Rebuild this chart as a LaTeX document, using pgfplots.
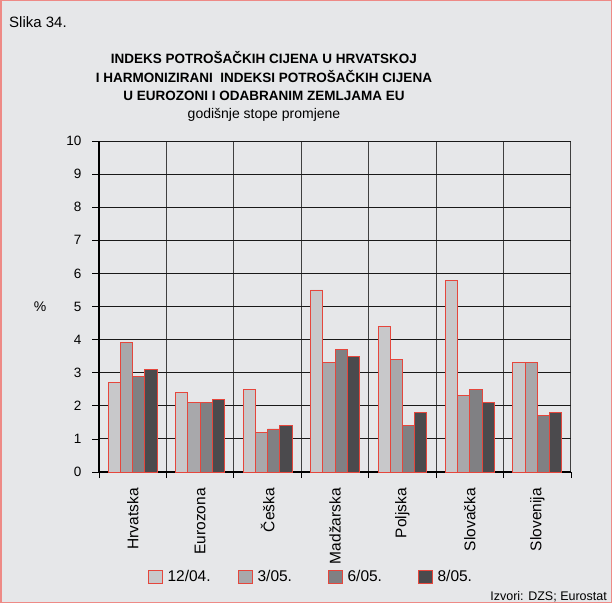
\documentclass[border=0pt]{standalone}
\usepackage{fontspec}
\setmainfont{Liberation Sans}
\usepackage{pgfplots}
\pgfplotsset{compat=1.18}
\definecolor{bg}{HTML}{E6E7E9}
\definecolor{frame}{HTML}{EE8A86}
\definecolor{edge}{HTML}{E5463C}
\definecolor{cA}{HTML}{C8C8CA}
\definecolor{cB}{HTML}{A8A8AB}
\definecolor{cC}{HTML}{808083}
\definecolor{cD}{HTML}{4B4A4D}
\newcommand{\lt}[1]{\makebox[46pt][l]{\hspace{3pt}#1}}
\begin{document}
\begin{tikzpicture}
\path[use as bounding box] (0pt,0pt) rectangle (612pt,603pt);
\fill[bg] (0pt,0pt) rectangle (612pt,603pt);
\draw[frame, line width=1.5pt] (0.75pt,0.75pt) rectangle (611.25pt,602.25pt);
\node[anchor=base west, inner sep=0pt, font=\fontsize{15}{18}\selectfont] at (9pt,575pt) {Slika 34.};
\node[anchor=base, inner sep=0pt, font=\fontsize{13.5}{16}\selectfont\bfseries] at (264pt,539pt) {INDEKS POTROŠAČKIH CIJENA U HRVATSKOJ};
\node[anchor=base, inner sep=0pt, font=\fontsize{13.5}{16}\selectfont\bfseries] at (264pt,520pt) {I HARMONIZIRANI\ \ INDEKSI POTROŠAČKIH CIJENA};
\node[anchor=base, inner sep=0pt, font=\fontsize{13.5}{16}\selectfont\bfseries] at (264pt,502pt) {U EUROZONI I ODABRANIM ZEMLJAMA EU};
\node[anchor=base, inner sep=0pt, font=\fontsize{14}{16}\selectfont] at (264pt,484pt) {godišnje stope promjene};
\node[anchor=base east, inner sep=0pt, font=\fontsize{12.5}{15}\selectfont] at (607pt,2.5pt) {Izvori: DZS; Eurostat};
\begin{axis}[
  at={(99pt,131pt)}, anchor=south west,
  scale only axis, width=472pt, height=331pt,
  xmin=-0.5, xmax=6.5, ymin=0, ymax=10,
  ytick={0,1,...,10},
  xtick={0,...,6},
  xticklabels={Hrvatska,Eurozona,Češka,Madžarska,Poljska,Slovačka,Slovenija},
  minor xtick={-0.5,0.5,...,6.5},
  xminorgrids=true, ymajorgrids=true, xmajorgrids=false,
  axis x line*=bottom, axis y line*=left,
  axis line style={-, black, line width=1.8pt},
  tick align=outside,
  major tick length=7pt, minor tick length=6pt,
  x tick style={draw=none},
  minor x tick style={draw=black, line width=0.8pt},
  y tick style={black, line width=0.8pt},
  every major grid/.style={black!90, line width=0.9pt},
  every minor grid/.style={black!75, line width=1pt},
  /pgf/number format/assume math mode=true,
  yticklabel style={font=\fontsize{13.5}{16}\selectfont, xshift=-7pt},
  xticklabel style={font=\fontsize{15.5}{18}\selectfont, rotate=90, anchor=east, inner sep=0pt},
  xticklabel shift=9pt,
  ylabel={\%},
  ylabel style={rotate=-90, at={(axis description cs:-0.125,0.5)}, anchor=center, font=\fontsize{14}{16}\selectfont},
  ybar=0pt, bar width=12.2pt,
  legend columns=4,
  legend style={at={(0.1025,-0.317)}, anchor=west, draw=none, fill=none, inner sep=0pt,
    font=\fontsize{15.5}{18}\selectfont,
    /tikz/every even column/.append style={column sep=25pt}},
  legend image code/.code={\draw[#1, line width=1pt] (0pt,-6.5pt) rectangle (14pt,6.5pt);},
]
\addplot[fill=cA, draw=edge, line width=0.9pt] coordinates {(0,2.7) (1,2.4) (2,2.5) (3,5.5) (4,4.4) (5,5.8) (6,3.3)};
\addplot[fill=cB, draw=edge, line width=0.9pt] coordinates {(0,3.9) (1,2.1) (2,1.2) (3,3.3) (4,3.4) (5,2.3) (6,3.3)};
\addplot[fill=cC, draw=edge, line width=0.9pt] coordinates {(0,2.9) (1,2.1) (2,1.3) (3,3.7) (4,1.4) (5,2.5) (6,1.7)};
\addplot[fill=cD, draw=edge, line width=0.9pt] coordinates {(0,3.1) (1,2.2) (2,1.4) (3,3.5) (4,1.8) (5,2.1) (6,1.8)};
\legend{\lt{12/04.},\lt{3/05.},\lt{6/05.},\lt{8/05.}}
\end{axis}
\end{tikzpicture}
\end{document}
